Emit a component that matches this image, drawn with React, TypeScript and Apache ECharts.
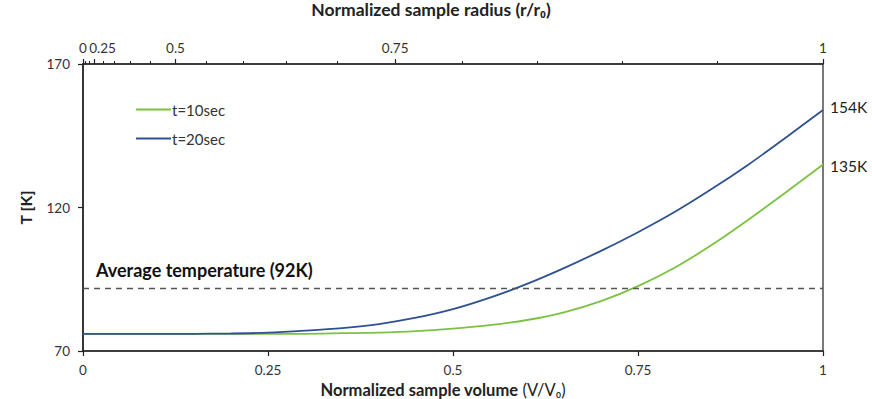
import React, { useEffect, useRef } from "react";
import * as echarts from "echarts";

const volume = [0, 0.05, 0.1, 0.15, 0.2, 0.25, 0.3, 0.35, 0.4, 0.45, 0.5, 0.55, 0.6, 0.65, 0.7, 0.75, 0.8, 0.85, 0.9, 0.95, 1];
const temp10 = [76, 76, 76, 76, 76, 76, 76, 76.2, 76.4, 76.9, 77.8, 79.0, 80.8, 83.5, 87.4, 92.6, 99.1, 107.0, 115.9, 125.3, 135];
const temp20 = [76, 76, 76, 76, 76.1, 76.4, 77.1, 78.0, 79.4, 81.6, 84.6, 88.6, 93.4, 98.9, 104.9, 111.4, 118.5, 126.5, 135.1, 144.4, 154];
const seriesNames = ["t=10sec", "t=20sec"];
const averageTemp = 92;
const yTicks = { min: 70, max: 170, interval: 50 };
const bottomTicks = [0, 0.25, 0.5, 0.75, 1];
const radiusLabels = [0, 0.5, 0.75, 1];
const radiusCrowdedLabels = [0.25];
const radiusMinorTicks = [0.05, 0.1, 0.15, 0.2, 0.25, 0.3, 0.35, 0.4, 0.45, 0.5, 0.55, 0.6, 0.65, 0.7, 0.75, 0.8, 0.85, 0.9, 0.95, 1];

const FONT = "Lato, 'Noto Sans', sans-serif";
const AXIS = "#222";

export default function App() {
  const ref = useRef<HTMLDivElement>(null);
  useEffect(() => {
    if (!ref.current) return;
    const chart = echarts.init(ref.current, null, { renderer: "svg" });
    const cube = (r: number) => r * r * r;
    const allLabels = radiusLabels.concat(radiusCrowdedLabels);
    const labelPos = allLabels.map(cube);
    const mainLabelPos = radiusLabels.map(cube);
    const crowdedPos = radiusCrowdedLabels.map(cube);
    const minorPos = radiusMinorTicks.map(cube);
    const fmtRadius = (v: number) => {
      const r = allLabels.find((x) => Math.abs(cube(x) - v) < 1e-6);
      return r === undefined ? "" : String(r);
    };
    const tickLabel = { color: "#333", fontSize: 13.5 };
    chart.setOption({
      animation: false,
      textStyle: { fontFamily: FONT },
      grid: {
        left: 83, right: 49, top: 64, bottom: 48,
        outerBoundsMode: "none",
        containLabel: false,
        show: true, borderColor: AXIS, borderWidth: 1.2, backgroundColor: "transparent",
      },
      legend: {
        orient: "vertical",
        left: 131,
        top: 97,
        itemGap: 14,
        itemWidth: 35,
        itemHeight: 2,
        icon: "rect",
        data: seriesNames,
        textStyle: { fontSize: 15, color: "#333", fontFamily: FONT, padding: [0, 0, 0, -4] },
      },
      xAxis: [
        {
          type: "value",
          position: "bottom",
          min: 0,
          max: 1,
          interval: 0.25,
          splitLine: { show: false },
          axisLine: { lineStyle: { color: AXIS, width: 1.5 } },
          axisTick: { show: true, length: 5, customValues: bottomTicks, lineStyle: { color: AXIS, width: 1.2 } },
          axisLabel: { ...tickLabel, margin: 12, customValues: bottomTicks, showMinLabel: true, showMaxLabel: true, formatter: (v: number) => String(v) },
          name: "{b|Normalized sample volume}{n| (V/V₀)}",
          nameLocation: "middle",
          nameGap: 27,
          nameTextStyle: {
            padding: [0, 20, 0, 0],
            rich: {
              b: { fontWeight: "bold", fontSize: 16.5, color: "#222", fontFamily: FONT },
              n: { fontSize: 16.5, color: "#222", fontFamily: FONT },
            },
          },
        },
        {
          type: "value",
          position: "top",
          min: 0,
          max: 1,
          splitLine: { show: false },
          axisLine: { lineStyle: { color: AXIS, width: 1.5 } },
          axisTick: { show: true, length: 5, customValues: labelPos, lineStyle: { color: AXIS, width: 1.2 } },
          axisLabel: { ...tickLabel, margin: 9, customValues: mainLabelPos, showMinLabel: true, showMaxLabel: true, formatter: fmtRadius },
          name: "Normalized sample radius (r/r₀)",
          nameLocation: "middle",
          nameGap: 46,
          nameTextStyle: { fontWeight: "bold", fontSize: 17.5, color: "#222", padding: [0, 44, 0, 0] },
        },
        {
          type: "value",
          position: "top",
          min: 0,
          max: 1,
          splitLine: { show: false },
          axisLine: { show: false },
          axisTick: { show: true, length: 3, customValues: minorPos, lineStyle: { color: AXIS, width: 1 } },
          axisLabel: { ...tickLabel, margin: 9, padding: [0, 0, 0, 16], customValues: crowdedPos, showMinLabel: true, showMaxLabel: true, formatter: fmtRadius },
        },
      ],
      yAxis: {
        type: "value",
        min: yTicks.min,
        max: yTicks.max,
        interval: yTicks.interval,
        splitLine: { show: false },
        axisLine: { show: true, lineStyle: { color: AXIS, width: 1.5 } },
        axisTick: { show: true, length: 5, lineStyle: { color: AXIS, width: 1.2 } },
        axisLabel: { ...tickLabel, margin: 13 },
        name: "T [K]",
        nameLocation: "middle",
        nameGap: 50,
        nameTextStyle: { fontWeight: "bold", fontSize: 16, color: "#222" },
      },
      series: [
        {
          name: seriesNames[0],
          type: "line",
          xAxisIndex: 0,
          data: volume.map((v, i) => [v, temp10[i]]),
          smooth: 0.3,
          symbol: "none",
          lineStyle: { color: "#7cc242", width: 1.8 },
          itemStyle: { color: "#7cc242" },
          endLabel: { show: true, formatter: (p: any) => `${Math.round(p.value[1])}K`, fontSize: 15.5, color: "#222", distance: 7, offset: [0, 2] },
        },
        {
          name: seriesNames[1],
          type: "line",
          xAxisIndex: 0,
          data: volume.map((v, i) => [v, temp20[i]]),
          smooth: 0.3,
          symbol: "none",
          lineStyle: { color: "#2f5192", width: 1.8 },
          itemStyle: { color: "#2f5192" },
          endLabel: { show: true, formatter: (p: any) => `${Math.round(p.value[1])}K`, fontSize: 15.5, color: "#222", distance: 7, offset: [0, -3] },
          markLine: {
            silent: true,
            symbol: "none",
            lineStyle: { color: "#555", width: 1.3, type: [6, 5] },
            data: [{ yAxis: averageTemp }],
            label: {
              show: true,
              position: "insideStartTop",
              formatter: `Average temperature (${averageTemp}K)`,
              fontWeight: "bold",
              fontSize: 18,
              color: "#111",
              distance: [13, 9],
            },
          },
        },
      ],
    });
    return () => chart.dispose();
  }, []);
  return <div ref={ref} style={{ position: "absolute", left: 0, top: 0, width: 872, height: 399 }} />;
}
